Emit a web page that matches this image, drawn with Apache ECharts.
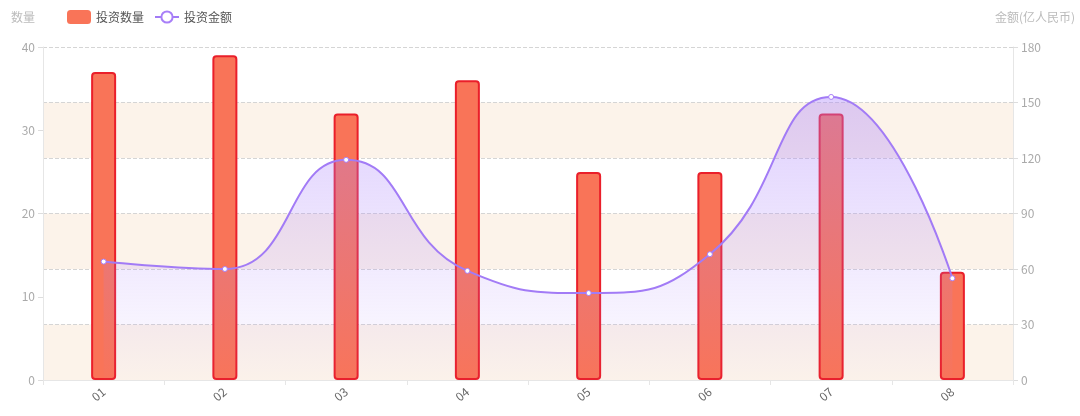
<!DOCTYPE html>
<html><head><meta charset="utf-8">
<script src="https://cdn.jsdelivr.net/npm/echarts@6/dist/echarts.min.js"></script>
<style>html,body{margin:0;padding:0;background:#fff}#c{width:1080px;height:416px}</style>
</head><body><div id="c"></div>
<script>
var categories = ['01','02','03','04','05','06','07','08'];
var investCount = [37, 39, 32, 36, 25, 25, 32, 13];
var investAmount = [64, 60, 119, 59, 47, 68, 153, 55];
var leftTicks = {min:0, max:40, interval:10};
var rightTicks = {min:0, max:180, interval:30};

var chart = echarts.init(document.getElementById('c'));
var font = '"Noto Sans CJK SC", "Noto Sans", sans-serif';
chart.setOption({
  animation:false,
  textStyle:{fontFamily:font},
  legend:{
    left:62, top:5, itemWidth:24, itemHeight:14, itemGap:10,
    textStyle:{color:'#555', fontSize:12, fontFamily:font},
    data:[{name:'投资数量', icon:'roundRect', itemStyle:{borderWidth:0}},{name:'投资金额'}]
  },
  grid:{left:43, right:67, top:47, bottom:36},
  xAxis:{
    type:'category', data:categories, boundaryGap:true,
    axisLine:{lineStyle:{color:'#e6e6e6'}},
    axisTick:{show:true, lineStyle:{color:'#e6e6e6'}},
    axisLabel:{color:'#666', rotate:40, fontSize:12, margin:10, fontFamily:font}
  },
  yAxis:[{
    type:'value', name:'数量', min:leftTicks.min, max:leftTicks.max, interval:leftTicks.interval,
    nameLocation:'end', nameGap:24,
    nameTextStyle:{color:'#bbb', fontSize:12, align:'right', padding:[0,8,0,0]},
    axisLine:{show:true, lineStyle:{color:'#e6e6e6'}},
    axisTick:{show:true, lineStyle:{color:'#ddd'}},
    axisLabel:{color:'#aaa', fontSize:12},
    splitLine:{show:false}
  },{
    type:'value', name:'金额(亿人民币)', min:rightTicks.min, max:rightTicks.max, interval:rightTicks.interval,
    position:'right', nameGap:24,
    nameTextStyle:{color:'#bbb', fontSize:12, align:'right', padding:[0,-62,0,0]},
    axisLine:{show:true, lineStyle:{color:'#e6e6e6'}},
    axisTick:{show:true, lineStyle:{color:'#ddd'}},
    axisLabel:{color:'#aaa', fontSize:12},
    splitLine:{show:true, lineStyle:{color:'#d5d5d5', type:'dashed'}},
    splitArea:{show:true, areaStyle:{color:['#fcf3ea','rgba(255,255,255,0)']}}
  }],
  series:[{
    name:'投资数量', type:'bar', yAxisIndex:0, data:investCount, barWidth:25,
    itemStyle:{color:'#f97458', borderColor:'#ea1f2a', borderWidth:2, borderRadius:3}
  },{
    name:'投资金额', type:'line', yAxisIndex:1, data:investAmount, smooth:true,
    symbol:'circle', symbolSize:5, showSymbol:true, z:5,
    itemStyle:{color:'#fff', borderColor:'#a87ff8', borderWidth:1},
    lineStyle:{color:'#a27bf6', width:2},
    areaStyle:{color:new echarts.graphic.LinearGradient(0,0,0,1,[
      {offset:0, color:'rgba(170,130,250,0.55)'},
      {offset:1, color:'rgba(170,130,250,0.02)'}
    ])}
  }]
});
</script></body></html>
